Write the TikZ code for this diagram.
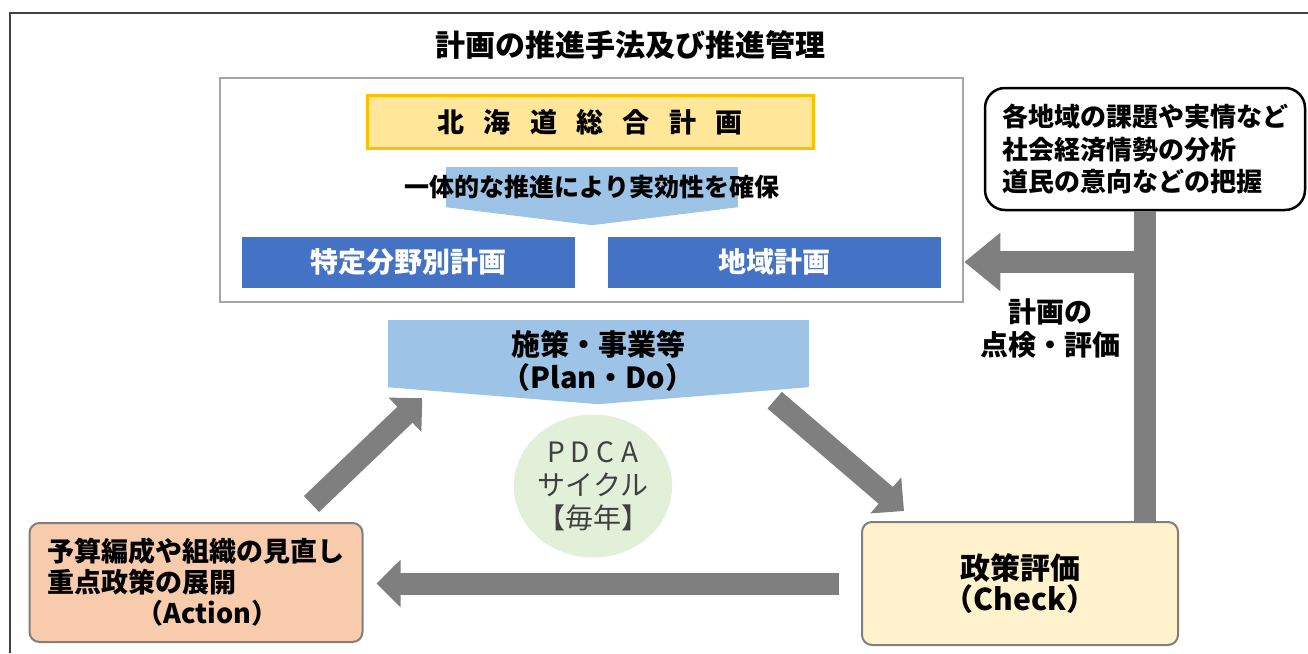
\documentclass[tikz,border=0pt]{standalone}
\usepackage{fontspec}
\setmainfont{Noto Sans CJK JP}
\usetikzlibrary{arrows.meta,positioning,shapes.geometric}

\definecolor{arrowgray}{HTML}{7F7F7F}
\definecolor{framegray}{HTML}{A6A6A6}
\definecolor{masterfill}{HTML}{FFE699}
\definecolor{masterline}{HTML}{FFC000}
\definecolor{paleblue}{HTML}{9DC3E6}
\definecolor{planblue}{HTML}{4472C4}
\definecolor{cyclegreen}{HTML}{E2F0D9}
\definecolor{actionfill}{HTML}{F8CBAD}
\definecolor{checkfill}{HTML}{FFF2CC}

\begin{document}
\begin{tikzpicture}[
    x=1pt,y=-1pt,
    node distance=33pt,
    txt/.style={
        inner sep=0pt,
        align=center,
        font=\fontsize{27}{33}\selectfont\bfseries
    },
    block/.style={
        rectangle,
        fill=planblue,
        minimum width=333pt,
        minimum height=51pt,
        text=white,
        font=\fontsize{28}{33}\selectfont\bfseries
    },
    cyclebox/.style={
        rectangle,
        draw=arrowgray,
        line width=2pt,
        rounded corners=10pt,
        font=\fontsize{27}{31}\selectfont\bfseries
    },
    fat/.style={draw=arrowgray,line width=22pt},
    cyclearrow/.style={fat,-{Triangle[length=24pt,width=46pt]}},
    bigarrow/.style={fat,-{Triangle[length=36pt,width=56pt]}}
]
    \useasboundingbox (0,0) rectangle (1308,653);
    % Frame
    \draw[black!75,line width=1.5pt] (10,653) -- (10,13) -- (1308,13);

    % Nodes
    \node[txt,font=\fontsize{30}{33}\selectfont\bfseries] (title) at (630,45) {計画の推進手法及び推進管理};

    \node[rectangle,draw=framegray,line width=2.5pt,minimum width=743pt,minimum height=224pt] (plans) at (591.5,190) {};
    \node[rectangle,fill=masterfill,draw=masterline,line width=3pt,minimum width=446pt,minimum height=53pt,
          font=\fontsize{27}{33}\selectfont\bfseries] (master) at (590,122)
        {北\hspace{.72em}海\hspace{.72em}道\hspace{.72em}総\hspace{.72em}合\hspace{.72em}計\hspace{.72em}画};

    \node[rectangle,fill=paleblue,minimum width=292pt,minimum height=40pt] (unify) at (592,187) {};
    \fill[paleblue] (unify.south west) -- (unify.south east) -- ([yshift=-18pt]unify.south) -- cycle;
    \node[txt,font=\fontsize{25}{30}\selectfont\bfseries] (unifytext) at (unify) {一体的な推進により実効性を確保};

    \node[block] (special) at (408,262) {特定分野別計画};
    \node[block,right=of special] (region) {地域計画};

    \node[rectangle,fill=paleblue,minimum width=421pt,minimum height=67pt] (plan) at (598,353.5) {};
    \fill[paleblue] (plan.south west) -- (plan.south east) -- ([yshift=-17pt]plan.south) -- cycle;
    \node[txt,font=\fontsize{29}{33}\selectfont\bfseries] (plantext) at ([yshift=-7pt]plan.center) {施策・事業等\\（Plan・Do）};

    \node[ellipse,fill=cyclegreen,minimum width=150pt,minimum height=143pt,inner sep=0pt,align=center,
          text=black!75,font=\fontsize{28}{33}\selectfont] (pdca) at (593,486)
        {P\hspace{6pt}D\hspace{6pt}C\hspace{8pt}A\\サイクル\\【毎年】};

    \node[cyclebox,fill=actionfill,minimum width=333pt,minimum height=119pt,align=left] (action) at (196,582.5)
        {予算編成や組織の見直し\\重点政策の展開\\\hspace*{3.3em}（Action）};
    \node[cyclebox,fill=checkfill,minimum width=316pt,minimum height=123pt,align=center,
          font=\fontsize{30}{31}\selectfont\bfseries] (check) at (1020,583.5)
        {政策評価\\（Check）};

    \node[rectangle,draw=black,line width=2.5pt,rounded corners=20pt,fill=white,minimum width=320pt,minimum height=122pt,
          align=left,font=\fontsize{26}{32.5}\selectfont\bfseries] (info) at (1145,149)
        {各地域の課題や実情など\\社会経済情勢の分析\\道民の意向などの把握};

    \node[txt,font=\fontsize{28}{33}\selectfont\bfseries] (review) at (1050,329) {計画の\\点検・評価};

    % Arrows
    \draw[fat] (info.south) -- (info.south |- check.north);
    \draw[bigarrow] (info.south |- region) -- (plans.east |- region);
    \draw[cyclearrow] ([xshift=-52pt,yshift=18pt]action.north east) -- ([xshift=35pt,yshift=-11pt]plan.south west);
    \draw[cyclearrow] ([xshift=-34pt,yshift=-13pt]plan.south east) -- ([xshift=43pt,yshift=10pt]check.north west);
    \draw[cyclearrow] ([xshift=-22pt]check.west) -- ([xshift=13pt]action.east |- check.west);
\end{tikzpicture}
\end{document}
